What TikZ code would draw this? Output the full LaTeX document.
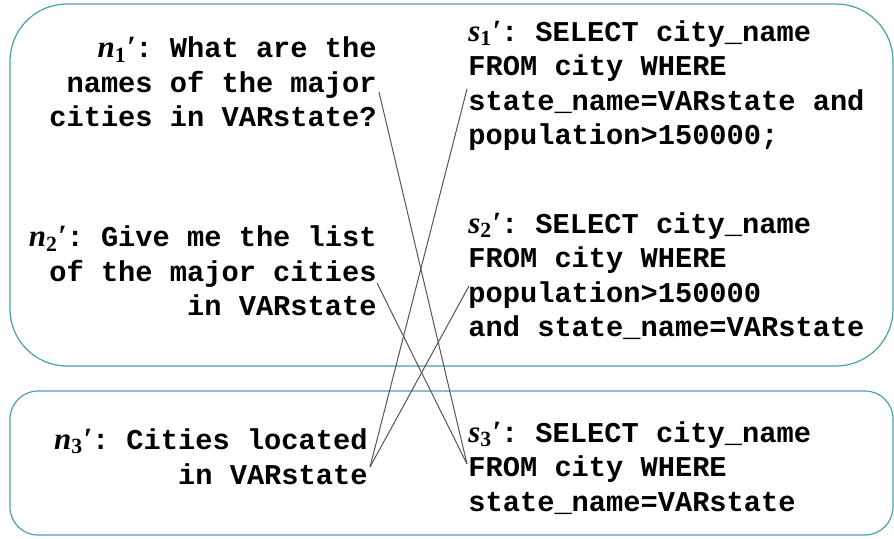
\documentclass[tikz,border=0pt]{standalone}
\usepackage{fontspec}
\setmonofont{Liberation Mono}
\newfontfamily\serifit{Liberation Serif}
\usetikzlibrary{positioning}
\definecolor{boxline}{RGB}{75,160,170}
\definecolor{linkgray}{RGB}{85,85,85}
\newcommand{\qfont}{\fontsize{14.35}{17.25}\selectfont\ttfamily\bfseries}
\newcommand{\qn}[1]{{\fontsize{15.5}{17.25}\selectfont\serifit\itshape n\textsubscript{\upshape #1}′}}
\newcommand{\qs}[1]{{\fontsize{15.5}{17.25}\selectfont\serifit\itshape s\textsubscript{\upshape #1}′}}

\begin{document}
\begin{tikzpicture}[x=0.5pt, y=-0.5pt,
    frame/.style={draw=boxline, line width=0.6pt},
    ques/.style={align=right, inner sep=0pt, anchor=base east, font=\qfont},
    sql/.style={align=left, inner sep=0pt, anchor=base west, font=\qfont},
    link/.style={draw=linkgray, line width=0.5pt}
  ]
  \useasboundingbox (0,0) rectangle (894,539);

  % ================= GROUPS =================
  \draw[frame, rounded corners=28.5pt] (10,4) rectangle (893,366);
  \draw[frame, rounded corners=14pt]   (10,391) rectangle (893,535);

  % ================= QUESTIONS =================
  \node[ques] (n1) at (377,127) {\qn{1}: What are the\\names of the major\\cities in VARstate?};
  \node[ques] (n2) at (377,316) {\qn{2}: Give me the list\\of the major cities\\in VARstate};
  \node[ques] (n3) at (368,484) {\qn{3}: Cities located\\in VARstate};

  % ================= SQL =================
  \node[sql] (s1) at (468,145) {\qs{1}: SELECT city\_name\\FROM city WHERE\\state\_name=VARstate and\\population>150000;};
  \node[sql] (s2) at (468,337) {\qs{2}: SELECT city\_name\\FROM city WHERE\\population>150000\\and state\_name=VARstate};
  \node[sql] (s3) at (468,511) {\qs{3}: SELECT city\_name\\FROM city WHERE\\state\_name=VARstate};

  % links: question -> query
  \draw[link] ([shift={(2,-35)}]n1.base east) -- ([shift={(-1,-47)}]s3.base west);
  \draw[link] ([shift={(0,-33)}]n2.base east) -- ([shift={(-1,-47)}]s3.base west);
  \draw[link] ([shift={(2,-17)}]n3.base east) -- ([shift={(-1,-56)}]s1.base west);
  \draw[link] ([shift={(2,-17)}]n3.base east) -- ([shift={(1,-51)}]s2.base west);
\end{tikzpicture}
\end{document}
